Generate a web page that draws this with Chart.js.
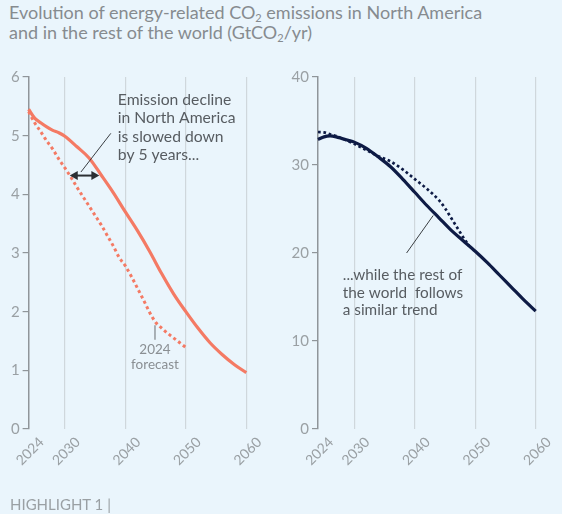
<!DOCTYPE html>
<html><head><meta charset="utf-8">
<script src="https://cdn.jsdelivr.net/npm/chart.js@4/dist/chart.umd.min.js"></script>
<style>
html,body{margin:0;padding:0;background:#EAF5FC;width:562px;height:514px;overflow:hidden;font-family:Lato,sans-serif;}
#title{position:absolute;left:9px;top:2px;font-size:18px;line-height:20px;color:#868b8f;white-space:nowrap;}
#title sub{font-size:11px;vertical-align:-3px;line-height:0;}
#foot{position:absolute;left:10px;top:495px;font-size:15px;color:#9aa0a4;}
#w1{position:absolute;left:0;top:0;width:275px;height:514px;}
#w2{position:absolute;left:285px;top:0;width:277px;height:514px;}
</style></head>
<body>
<div id="title">Evolution of energy-related CO<sub>2</sub> emissions in North America<br>and in the rest of the world (GtCO<sub>2</sub>/yr)</div>
<div id="w1"><canvas id="c1"></canvas></div>
<div id="w2"><canvas id="c2"></canvas></div>
<div id="foot">HIGHLIGHT 1 |</div>
<script>
// ---- data ----
const xTickYears = [2024, 2030, 2040, 2050, 2060];
const naYears = [2024,2025,2026,2027,2028,2029,2030,2032,2034,2036,2038,2040,2042,2044,2046,2048,2050,2052,2054,2056,2058,2060];
const naValues = [5.45,5.30,5.22,5.15,5.09,5.05,4.99,4.81,4.62,4.33,4.03,3.70,3.38,3.03,2.65,2.30,2.00,1.72,1.47,1.27,1.10,0.96];
const naForecastYears = [2024,2025,2026,2027,2028,2029,2030,2031,2032,2033,2034,2035,2036,2037,2038,2039,2040,2041,2042,2043,2044,2045,2046,2047,2048,2049,2050];
const naForecastValues = [5.41,5.22,5.07,4.91,4.77,4.60,4.45,4.29,4.12,3.96,3.80,3.64,3.48,3.30,3.12,2.92,2.78,2.60,2.40,2.20,1.99,1.82,1.72,1.63,1.55,1.47,1.39];
const rowYears = [2024,2025,2026,2027,2028,2029,2030,2032,2034,2036,2038,2040,2042,2044,2046,2048,2050,2052,2054,2056,2058,2060];
const rowValues = [32.9,33.2,33.3,33.2,33.0,32.8,32.6,31.9,30.9,29.8,28.4,26.9,25.4,24.0,22.6,21.4,20.2,18.9,17.5,16.1,14.7,13.4];
const rowForecastYears = [2024,2025,2026,2027,2028,2029,2030,2032,2034,2036,2038,2040,2042,2044,2045,2046,2047,2048,2049];
const rowForecastValues = [33.75,33.7,33.5,33.3,33.0,32.7,32.4,31.7,31.0,30.4,29.5,28.4,27.3,26.0,25.1,24.0,22.9,21.8,20.8];

const ORANGE = '#F47A64', NAVY = '#0E1B45';
const GRID = '#cfd7dc', AXIS = '#8f959a', TICKTXT = '#9aa0a4', NOTE = '#575c61';

function pts(xs, ys){ return xs.map((x,i)=>({x:x, y:ys[i]})); }

function annotPlugin(draw){
  return { id:'annot', afterDatasetsDraw(chart){ const c=chart.ctx; c.save(); draw(c, chart.scales.x, chart.scales.y); c.restore(); } };
}
function textLines(c, x, y, lines, ys, font, color, align){
  c.font = font; c.fillStyle = color; c.textAlign = align||'left'; c.textBaseline='middle';
  lines.forEach((t,i)=>c.fillText(t, x.getPixelForValue(ys.x), y.getPixelForValue(ys.y[i])));
}
function seg(c, x, y, x1, y1, x2, y2, color, w){
  c.strokeStyle=color; c.lineWidth=w; c.beginPath();
  c.moveTo(x.getPixelForValue(x1), y.getPixelForValue(y1));
  c.lineTo(x.getPixelForValue(x2), y.getPixelForValue(y2)); c.stroke();
}

function makeChart(id, series, yMax, yStep, yAxisWidth, padRight, plugin){
  return new Chart(document.getElementById(id), {
    type:'line',
    data:{ datasets: series },
    options:{
      responsive:true, maintainAspectRatio:false, animation:false,
      layout:{ padding:{ top:77, right:padRight, left:0, bottom:0 } },
      plugins:{ legend:{display:false}, tooltip:{enabled:false} },
      elements:{ point:{ radius:0 } },
      scales:{
        x:{
          type:'linear', min:2024, max:2060,
          afterBuildTicks(s){ s.ticks = xTickYears.map(v=>({value:v})); },
          afterFit(s){ s.height = 85; },
          grid:{ color:(ctx)=> (ctx.tick && ctx.tick.value===2024) ? 'rgba(0,0,0,0)' : GRID, lineWidth:1.2, drawTicks:false },
          border:{ display:false },
          ticks:{ minRotation:45, maxRotation:45, autoSkip:false, padding:5, labelOffset:13,
                  font:{ family:'Lato', size:14 }, color:TICKTXT, callback:(v)=>String(v) }
        },
        y:{
          min:0, max:yMax,
          afterBuildTicks(s){ const t=[]; for(let v=0; v<=yMax; v+=yStep) t.push({value:v}); s.ticks=t; },
          afterFit(s){ s.width = yAxisWidth; },
          grid:{ drawOnChartArea:false, drawTicks:true, tickLength:6, color:AXIS, lineWidth:1.2 },
          border:{ display:true, color:AXIS, width:1.5 },
          ticks:{ padding:3, font:{ family:'Lato', size:15 }, color:TICKTXT, callback:(v)=>String(v) }
        }
      }
    },
    plugins:[plugin]
  });
}

const noteFont = '15.7px Lato';

makeChart('c1', [
  { data: pts(naForecastYears, naForecastValues), borderColor:ORANGE, borderWidth:3, borderDash:[3,3], cubicInterpolationMode:'monotone', clip:false, fill:false },
  { data: pts(naYears, naValues), borderColor:ORANGE, borderWidth:3.2, cubicInterpolationMode:'monotone', clip:false, fill:false }
], 6, 1, 28.6, 28.7, annotPlugin((c,x,y)=>{
  textLines(c, x, y, ['Emission decline','in North America','is slowed down','by 5 years...'], {x:2038.75, y:[5.61,5.30,4.98,4.67]}, noteFont, NOTE, 'left');
  seg(c, x, y, 2037.6, 5.04, 2032.65, 4.38, '#3a3e42', 1);
  // double arrow
  const ay = y.getPixelForValue(4.32), ax1 = x.getPixelForValue(2030.8), ax2 = x.getPixelForValue(2035.7);
  c.strokeStyle='#2b2f33'; c.fillStyle='#2b2f33'; c.lineWidth=2;
  c.beginPath(); c.moveTo(ax1+4, ay); c.lineTo(ax2-4, ay); c.stroke();
  c.beginPath(); c.moveTo(ax1, ay); c.lineTo(ax1+8, ay-4.5); c.lineTo(ax1+8, ay+4.5); c.closePath(); c.fill();
  c.beginPath(); c.moveTo(ax2, ay); c.lineTo(ax2-8, ay-4.5); c.lineTo(ax2-8, ay+4.5); c.closePath(); c.fill();
  // forecast label
  seg(c, x, y, 2044.9, 1.77, 2044.9, 1.52, '#7d8286', 1.2);
  textLines(c, x, y, ['2024','forecast'], {x:2044.9, y:[1.36,1.09]}, '13.5px Lato', '#8a8f93', 'center');
}));

makeChart('c2', [
  { data: pts(rowForecastYears, rowForecastValues), borderColor:NAVY, borderWidth:2.7, borderDash:[2.7,2.7], cubicInterpolationMode:'monotone', clip:false, fill:false },
  { data: pts(rowYears, rowValues), borderColor:NAVY, borderWidth:3.2, cubicInterpolationMode:'monotone', clip:false, fill:false }
], 40, 10, 33, 26.3, annotPlugin((c,x,y)=>{
  seg(c, x, y, 2043.05, 24.26, 2038.65, 20.0, '#3a3e42', 1);
  textLines(c, x, y, ['...while the rest of','the world  follows','a similar trend'], {x:2028.1, y:[17.5,15.5,13.55]}, '15.3px Lato', NOTE, 'left');
}));
</script>
</body></html>
